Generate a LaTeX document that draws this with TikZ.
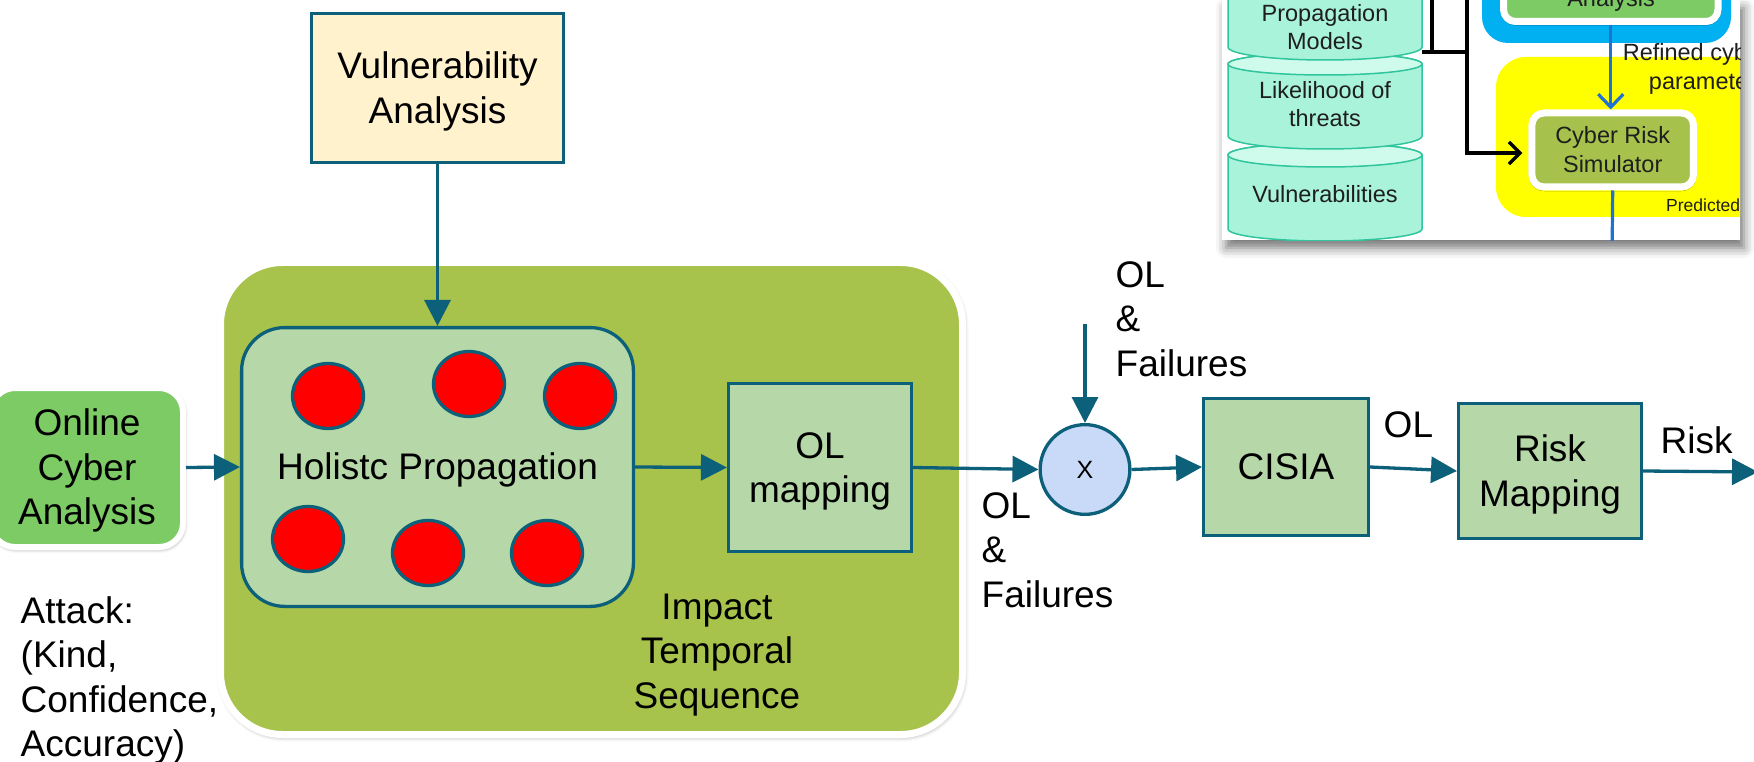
\documentclass[tikz,border=0pt]{standalone}
\usepackage{fontspec}
\setmainfont{Liberation Sans}
\usetikzlibrary{arrows.meta,shapes.geometric,shadows.blur}

\definecolor{cTeal}{HTML}{0D6079}
\definecolor{cPale}{HTML}{B6D7A8}
\definecolor{cOlive}{HTML}{A8C34B}
\definecolor{cOnline}{HTML}{7DCB65}
\definecolor{cVuln}{HTML}{FFF2CC}
\definecolor{cRed}{HTML}{FF0000}
\definecolor{cMul}{HTML}{C9DAF8}
\definecolor{cCyan}{HTML}{00B0F0}
\definecolor{cYellow}{HTML}{FFFF00}
\definecolor{cSim}{HTML}{A6C24C}
\definecolor{cBlue}{HTML}{1F72D2}
\definecolor{cMint}{HTML}{A8F3DA}
\definecolor{cMintTop}{HTML}{CFFBEC}
\definecolor{cMintEdge}{HTML}{30C59C}
\definecolor{cInk}{HTML}{1E1E1E}

\newcommand{\mainsize}{\fontsize{37pt}{44.5pt}\selectfont}
\newcommand{\mulsize}{\fontsize{25pt}{30pt}\selectfont}
\newcommand{\insetsize}{\fontsize{23.5pt}{28.5pt}\selectfont}
\newcommand{\smallinset}{\fontsize{17.5pt}{21pt}\selectfont}
% line-height strut so that text boxes are centred like a line box
\newcommand{\lnstrut}{\rule[-0.212em]{0pt}{1.117em}}

\begin{document}
\begin{tikzpicture}[x=1pt,y=-1pt,
  conn/.style={draw=cTeal, line width=3.3pt, -{Triangle[length=26pt,width=26pt]}},
  blk/.style={rectangle, draw=cTeal, line width=3.3pt, fill=cPale, inner sep=0pt,
    align=center, font=\mainsize},
  container/.style={rectangle, rounded corners=62pt, fill=cOlive, draw=white,
    line width=7pt, inner sep=0pt, minimum width=742pt, minimum height=472pt,
    blur shadow={shadow xshift=1pt, shadow yshift=-2pt, shadow blur radius=5pt, shadow opacity=45}},
  onlinebox/.style={rectangle, rounded corners=24pt, fill=cOnline, draw=white,
    line width=6pt, inner sep=0pt, minimum width=192pt, minimum height=159pt,
    align=center, font=\mainsize,
    blur shadow={shadow xshift=1pt, shadow yshift=-2pt, shadow blur radius=4pt, shadow opacity=45}},
  redspot/.style={ellipse, draw=cTeal, line width=3.3pt, fill=cRed, inner sep=0pt,
    minimum width=71pt, minimum height=65pt},
  mulnode/.style={circle, draw=cTeal, line width=3.3pt, fill=cMul, inner sep=0pt,
    minimum size=89.7pt, font=\mulsize},
  lbl/.style={inner sep=0pt, font=\mainsize},
  insetbg/.style={rectangle, fill=white, inner sep=0pt, minimum width=518pt, minimum height=240pt,
    blur shadow={shadow xshift=4pt, shadow yshift=-8pt, shadow blur radius=10pt, shadow opacity=55}},
  cylbody/.style={fill=cMint, draw=cMintEdge, line width=1.5pt},
  cyltop/.style={fill=cMintTop, draw=cMintEdge, line width=1.5pt},
  cyltext/.style={inner sep=0pt, font=\insetsize, text=cInk, align=center},
  whitebox/.style={rectangle, rounded corners=12pt, draw=white, line width=7pt, inner sep=0pt,
    align=center, font=\insetsize, text=cInk,
    blur shadow={shadow xshift=0pt, shadow yshift=-1pt, shadow blur radius=3pt, shadow opacity=35}},
  blackline/.style={draw=black, line width=3.5pt},
  blueline/.style={draw=cBlue, line width=3.2pt}
]
\useasboundingbox (0,0) rectangle (1754,762);

% ---- impact container and its content
\node[container] (impact) at (591.5,498.5) {};
\node[blk, rounded corners=43pt, minimum width=391.8pt, minimum height=278.8pt]
  (holistic) at (437.5,467) {\lnstrut Holistc Propagation};
\node[redspot] (s1) at (328,396) {};
\node[redspot] (s2) at (469,384) {};
\node[redspot] (s3) at (580,396) {};
\node[redspot] (s4) at (308,539) {};
\node[redspot] (s5) at (428,553) {};
\node[redspot] (s6) at (547,553) {};
\node[blk, minimum width=182.8pt, minimum height=167.8pt]
  (olmap) at (820,467.5) {\lnstrut OL\\\lnstrut mapping};
\node[lbl, align=center, anchor=north] (impactlbl) at (717,585.5)
  {\lnstrut Impact\\\lnstrut Temporal\\\lnstrut Sequence};

% ---- inputs
\node[blk, fill=cVuln, minimum width=252pt, minimum height=149pt]
  (vuln) at (437.5,88) {\lnstrut Vulnerability\\\lnstrut Analysis};
\node[onlinebox] (online) at (87,467.5)
  {\lnstrut Online\\\lnstrut Cyber\\\lnstrut Analysis};
\node[lbl, align=left, anchor=north west] (attack) at (20.5,589.5)
  {\lnstrut Attack:\\\lnstrut (Kind,\\\lnstrut Confidence,\\\lnstrut Accuracy)};

% ---- output chain
\node[mulnode] (mulx) at (1085,469.5) {\lnstrut X};
\node[blk, minimum width=164.7pt, minimum height=136.7pt]
  (cisia) at (1286,467) {\lnstrut CISIA};
\node[blk, minimum width=182.7pt, minimum height=134.7pt]
  (risk) at (1550,471) {\lnstrut Risk\\\lnstrut Mapping};
\coordinate (olin) at (1085,324);
\coordinate (riskout) at (1758,472);

\node[lbl, align=left, anchor=north west] (olf1) at (1115.5,253.5)
  {\lnstrut OL\\\lnstrut \&\\\lnstrut Failures};
\node[lbl, align=left, anchor=north west] (olf2) at (981.5,484.5)
  {\lnstrut OL\\\lnstrut \&\\\lnstrut Failures};
\node[lbl, anchor=base west] (ollbl) at (1383.5,437) {OL};
\node[lbl, anchor=base west] (risklbl) at (1660.5,453) {Risk};

% ---- connectors
\draw[conn] (online.east) -- (holistic.west);
\draw[conn] (vuln.south) -- (holistic.north);
\draw[conn] (holistic.east) -- (olmap.west);
\draw[conn] (olmap.east) -- (mulx.west);
\draw[conn] (olin) -- (mulx.north);
\draw[conn] (mulx.east) -- (cisia.west);
\draw[conn] (cisia.east) -- (risk.west);
\draw[conn] (risk.east) -- (riskout);

% ---- framework excerpt (top right)
\node[insetbg] (inset) at (1481,120) {};
\begin{scope}
  \clip (inset.north west) rectangle (inset.south east);
  % data stores
  \path[cylbody] (1228,155) -- (1228,229)
    arc[start angle=180, end angle=360, x radius=97pt, y radius=12pt]
    -- (1422,155) arc[start angle=0, end angle=180, x radius=97pt, y radius=12pt] -- cycle;
  \path[cyltop] (1325,155) ellipse[x radius=97pt, y radius=12pt];
  \path[cylbody] (1228,64) -- (1228,136)
    arc[start angle=180, end angle=360, x radius=97pt, y radius=13pt]
    -- (1422,64) arc[start angle=0, end angle=180, x radius=97pt, y radius=11pt] -- cycle;
  \path[cyltop] (1325,64) ellipse[x radius=97pt, y radius=11pt];
  \path[cylbody] (1228,-30) -- (1228,47)
    arc[start angle=180, end angle=360, x radius=97pt, y radius=13pt]
    -- (1422,-30) -- cycle;
  \node[cyltext, anchor=north] (propm) at (1325,-0.3)
    {\lnstrut Propagation\\\lnstrut Models};
  \node[cyltext, anchor=north] (likt) at (1325,76.7)
    {\lnstrut Likelihood of\\\lnstrut threats};
  \node[cyltext, anchor=base] (vulns) at (1325,203) {Vulnerabilities};

  % analysis block
  \fill[cCyan, rounded corners=26pt] (1482,-60) rectangle (1731,43);
  \node[whitebox, fill=cOnline, minimum width=214.5pt, minimum height=91.5pt]
    (ana) at (1610.75,-24.25) {};
  \node[cyltext, anchor=base] (analbl) at (1611,7) {Analysis};

  % simulator area
  \fill[cYellow, rounded corners=30pt] (1496,57) rectangle (1800,217);
  \node[whitebox, fill=cSim, minimum width=161.5pt, minimum height=74pt]
    (crs) at (1612.7,150) {\lnstrut Cyber Risk\\\lnstrut Simulator};
  \coordinate (crsout) at (1612,260);

  % links
  \draw[blackline] (1432,-5) -- (1432,52);
  \draw[blackline] (1422,52) -- (1467,52);
  \draw[blackline, -{Straight Barb[length=11pt,width=22pt]}]
    (1467,-5) |- ([xshift=-6pt,yshift=-3pt]crs.west);
  \draw[blueline, -{Straight Barb[length=13pt,width=25pt]}]
    (ana.south) -- (ana.south |- crs.north);
  \draw[blueline] (crs.south) -- (crsout);

  \node[cyltext, align=right, anchor=north east, font=\fontsize{23.5pt}{29.5pt}\selectfont]
    (refined) at (1768,38.7) {\lnstrut Refined cyber\\\lnstrut parameters};
  \node[cyltext, anchor=base west, font=\smallinset] (pred) at (1666,212) {Predicted risk};
\end{scope}
\end{tikzpicture}
\end{document}
